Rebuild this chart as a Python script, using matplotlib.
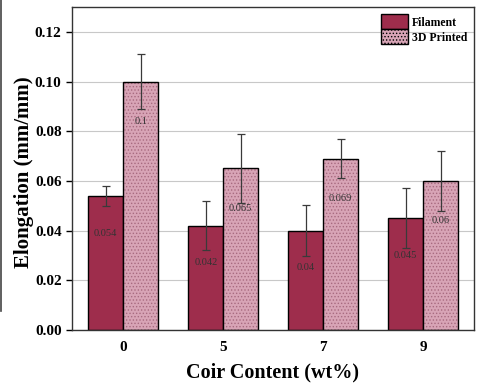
import numpy as np
import matplotlib.pyplot as plt
from matplotlib.lines import Line2D
from matplotlib.patches import Patch

plt.rcParams['font.family'] = ['Liberation Serif', 'DejaVu Serif']
plt.rcParams['hatch.linewidth'] = 0.6

# coir content groups
coir = ['0', '5', '7', '9']

# elongation (mm/mm) and standard deviations
filament = [0.054, 0.042, 0.04, 0.045]
filament_err = [0.004, 0.010, 0.0103, 0.012]
printed = [0.1, 0.065, 0.069, 0.06]
printed_err = [0.011, 0.0137, 0.008, 0.012]

x = np.arange(len(coir))
w = 0.35

fil_color = '#9e2d4c'
pr_color = '#d8a4b6'
dot_color = '#a86a80'

fig = plt.figure(figsize=(4.81, 3.84), dpi=100)
ax = fig.add_axes([0.1497, 0.1406, 0.8357, 0.8412])

ax.set_axisbelow(True)
ax.yaxis.grid(True, color='#c8c8c8', linewidth=0.8)

ax.bar(x - w / 2, filament, w, color=fil_color, edgecolor='black', linewidth=1.0)
ax.bar(x + w / 2, printed, w, color=pr_color, edgecolor=dot_color,
       hatch='.....', linewidth=0)
# outline of the dotted bars drawn separately so the dots stay light
ax.bar(x + w / 2, printed, w, color='none', edgecolor='black', linewidth=1.0)

ax.errorbar(x - w / 2, filament, yerr=filament_err, fmt='none',
            ecolor='#3a3a3a', elinewidth=0.9, capsize=3, capthick=0.9)
ax.errorbar(x + w / 2, printed, yerr=printed_err, fmt='none',
            ecolor='#3a3a3a', elinewidth=0.9, capsize=3, capthick=0.9)

for xi, v in zip(x - w / 2, filament):
    ax.text(xi, v - 0.015, f'{v:g}', ha='center', va='center',
            fontsize=7.5, color='#333333')
for xi, v in zip(x + w / 2, printed):
    ax.text(xi, v - 0.016, f'{v:g}', ha='center', va='center',
            fontsize=7.5, color='#333333')

ax.set_xlim(-0.513, 3.507)
ax.set_ylim(0, 0.13)
yt = np.arange(0, 0.121, 0.02)
ax.set_yticks(yt)
ax.set_yticklabels([f'{t:.2f}' for t in yt])
ax.set_xticks(x)
ax.set_xticklabels(coir)
ax.tick_params(axis='x', length=0, pad=8)
ax.tick_params(axis='y', length=4, width=1.0, direction='out')
for lab in ax.get_xticklabels() + ax.get_yticklabels():
    lab.set_fontweight('bold')
    lab.set_fontsize(11)

for s in ax.spines.values():
    s.set_linewidth(1.0)
    s.set_color('#333333')

ax.set_xlabel('Coir Content (wt%)', fontsize=14.5, fontweight='bold', labelpad=6)
ax.set_ylabel('Elongation (mm/mm)', fontsize=15, fontweight='bold')
ax.yaxis.set_label_coords(-0.095, 0.49)

handles = [
    Patch(facecolor=fil_color, edgecolor='black', linewidth=1.0),
    Patch(facecolor=pr_color, edgecolor='black', linewidth=1.0, hatch='.....'),
]
ax.legend(handles, ['Filament', '3D Printed'], loc='upper right', frameon=False,
          prop={'weight': 'bold', 'size': 8.5},
          handlelength=2.3, handleheight=1.6, labelspacing=0.0,
          handletextpad=0.3, borderaxespad=0.2, borderpad=0.4)

# dark strip along the left edge
fig.add_artist(Line2D([0.002, 0.002], [0.19, 1.0], color='#444444',
                      linewidth=1.2, transform=fig.transFigure))

fig.savefig('out.png', dpi=100)
